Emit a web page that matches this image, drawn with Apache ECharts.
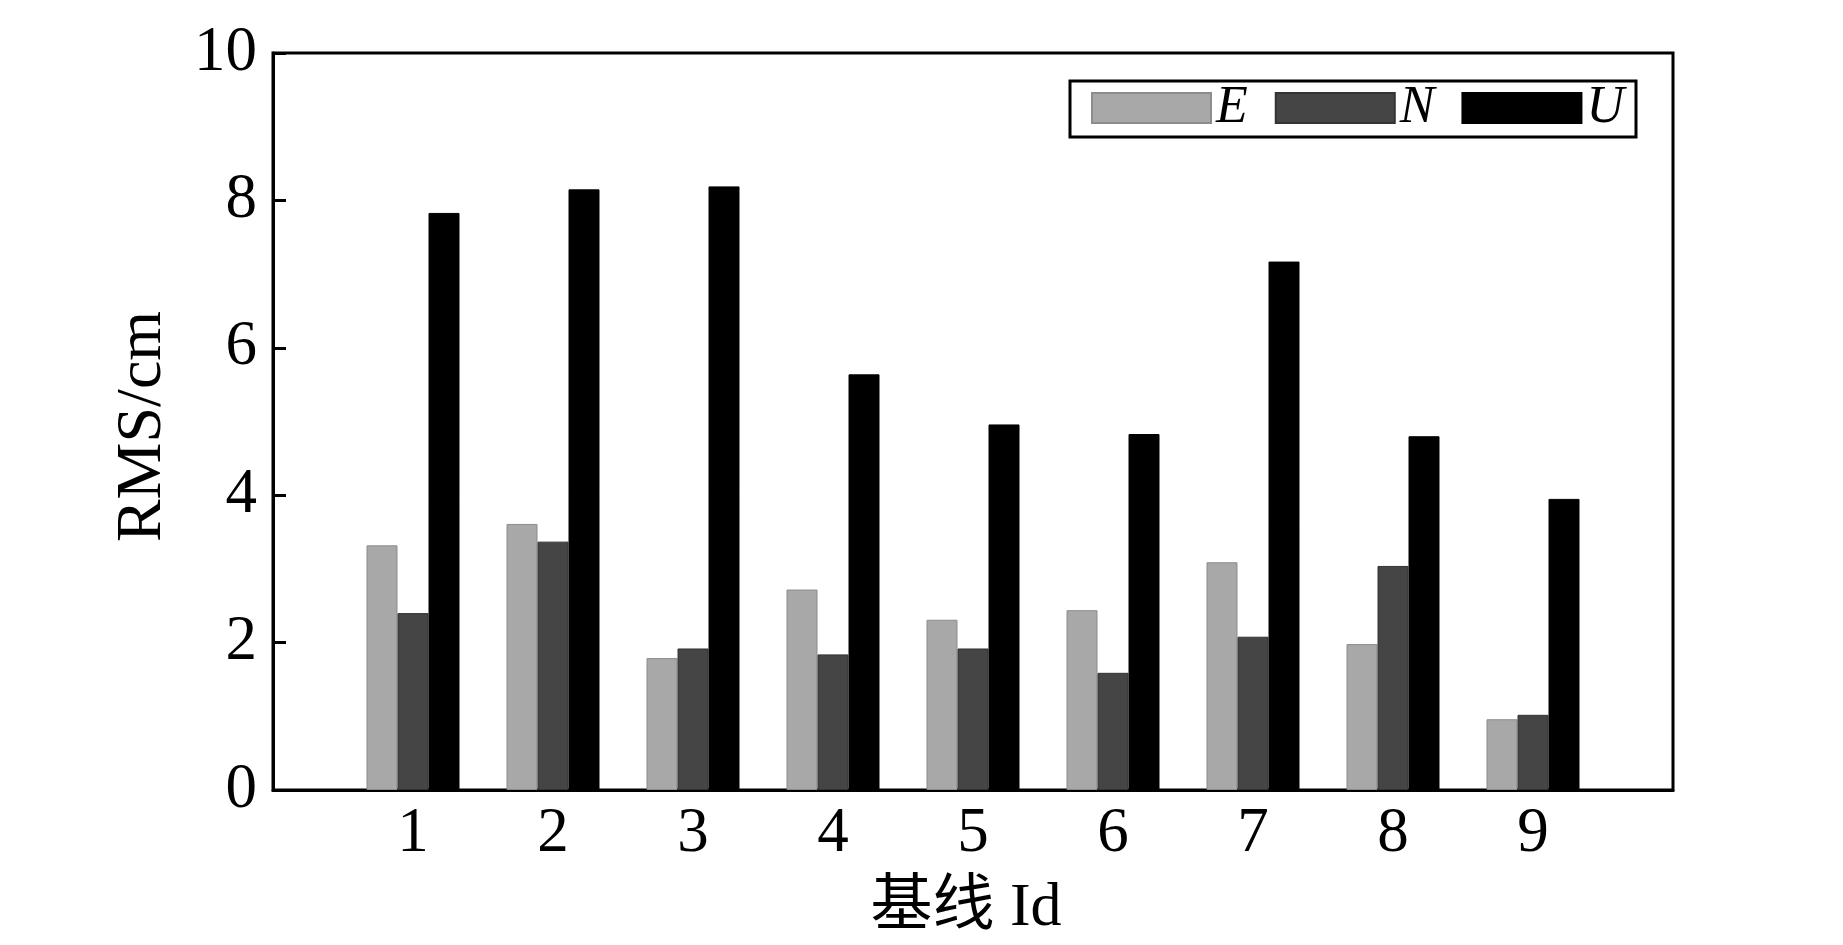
<!DOCTYPE html>
<html>
<head>
<meta charset="utf-8">
<script src="https://cdn.jsdelivr.net/npm/echarts@6/dist/echarts.min.js"></script>
<style>
html,body{margin:0;padding:0;background:#fff;}
#chart{width:1843px;height:945px;}
</style>
</head>
<body>
<div id="chart"></div>
<script>
const categories = ['1','2','3','4','5','6','7','8','9'];
const seriesNames = ['E','N','U'];
const valuesE = [3.32, 3.61, 1.79, 2.72, 2.31, 2.44, 3.09, 1.98, 0.96];
const valuesN = [2.40, 3.37, 1.92, 1.84, 1.92, 1.59, 2.08, 3.04, 1.02];
const valuesU = [7.83, 8.15, 8.19, 5.64, 4.96, 4.83, 7.17, 4.80, 3.95];
const yTicks = [0, 2, 4, 6, 8, 10];

const serif = '"Liberation Serif", "Times New Roman", "Noto Sans CJK SC", serif';
const axisCats = [''].concat(categories, ['']);
function pad(arr){ return [null].concat(arr, [null]); }

const chart = echarts.init(document.getElementById('chart'));
const styles = [
  {color:'#a8a8a8', borderColor:'#8c8c8c', borderWidth:1},
  {color:'#454545', borderColor:'#333333', borderWidth:1},
  {color:'#000000', borderColor:'#000000', borderWidth:1}
];
const dataSets = [valuesE, valuesN, valuesU];

chart.setOption({
  animation:false,
  backgroundColor:'#ffffff',
  grid:{left:273, right:170, top:53, bottom:150, show:true, borderColor:'#000', borderWidth:3, backgroundColor:'transparent'},
  legend:{
    data:seriesNames.map(n=>({name:n, icon:'rect'})),
    left:1070, top:81,
    orient:'horizontal',
    itemWidth:119, itemHeight:30, itemGap:27,
    padding:[1,12,3,21],
    borderColor:'#000', borderWidth:3,
    backgroundColor:'#fff',
    textStyle:{fontFamily:serif, fontStyle:'italic', fontSize:52, color:'#000'}
  },
  xAxis:{
    type:'category',
    data:axisCats,
    boundaryGap:false,
    axisLine:{show:true, lineStyle:{color:'#000', width:3}},
    axisTick:{show:false},
    axisLabel:{interval:0, fontFamily:serif, fontSize:63, color:'#000', margin:13},
    splitLine:{show:false},
    name:'基线 Id',
    nameLocation:'middle',
    nameGap:88,
    nameTextStyle:{fontFamily:serif, fontSize:62, color:'#000', padding:[0,14,0,0]}
  },
  yAxis:{
    type:'value',
    min:yTicks[0], max:yTicks[yTicks.length-1], interval:2,
    axisLine:{show:true, lineStyle:{color:'#000', width:3}},
    axisTick:{show:true, inside:true, length:13, lineStyle:{color:'#000', width:3}},
    axisLabel:{fontFamily:serif, fontSize:63, color:'#000', margin:16},
    splitLine:{show:false},
    name:'RMS/cm',
    nameLocation:'middle',
    nameGap:98,
    nameRotate:90,
    nameTextStyle:{fontFamily:serif, fontSize:64, color:'#000', padding:[0,10,0,0]}
  },
  series: seriesNames.map((n,i)=>({
    name:n,
    type:'bar',
    data:pad(dataSets[i]),
    barWidth:31,
    barGap:'0%',
    itemStyle:styles[i]
  }))
});
</script>
</body>
</html>
